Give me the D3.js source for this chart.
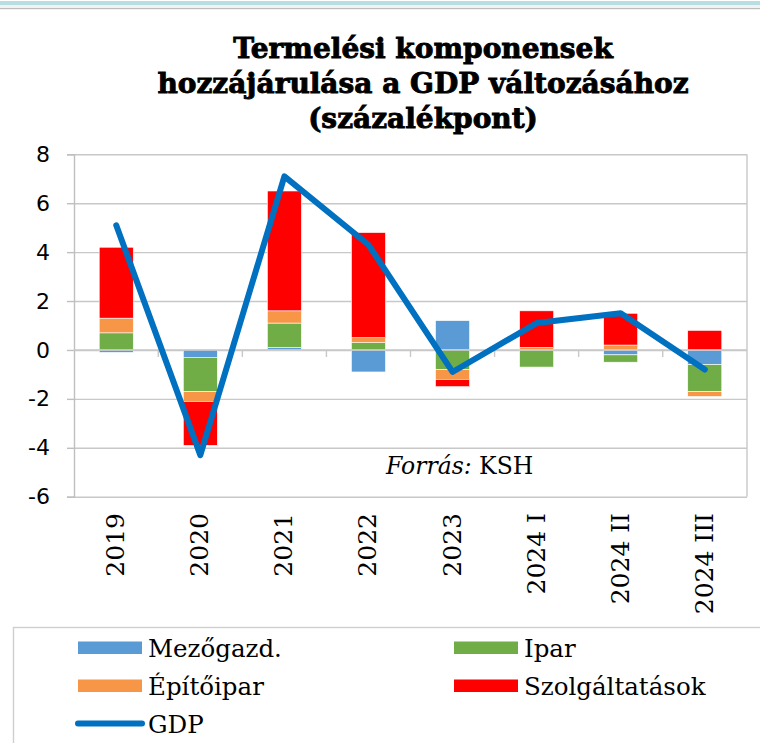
<!DOCTYPE html>
<html>
<head>
<meta charset="utf-8">
<script src="https://cdn.jsdelivr.net/npm/d3@7"></script>
<style>
  body { margin: 0; background: #fff; }
  svg { display: block; }
</style>
</head>
<body>
<div id="chart"></div>
<script>
// Termelési komponensek hozzájárulása a GDP változásához (százalékpont)
const categories = ['2019', '2020', '2021', '2022', '2023', '2024 I', '2024 II', '2024 III'];
const mezogazd  = [-0.1, -0.3, 0.1, -0.9, 1.2, 0.0, -0.2, -0.6];
const ipar      = [0.7, -1.4, 1.0, 0.3, -0.8, -0.7, -0.3, -1.1];
const epitoipar = [0.6, -0.4, 0.5, 0.2, -0.4, 0.1, 0.2, -0.2];
const szolg     = [2.9, -1.8, 4.9, 4.3, -0.3, 1.5, 1.3, 0.8];
const gdp       = [5.1, -4.3, 7.1, 4.3, -0.9, 1.1, 1.5, -0.8];
const yTicks    = [-6, -4, -2, 0, 2, 4, 6, 8];

const seriesKeys = ['Mezőgazd.', 'Ipar', 'Építőipar', 'Szolgáltatások'];
const seriesVals = [mezogazd, ipar, epitoipar, szolg];
const colors = ['#5B9BD5', '#70AD47', '#F79646', '#FF0000'];
const gdpColor = '#0070C0';

const width = 760, height = 743;
const plot = { left: 74, right: 747, top: 154.3, bottom: 496.7 };

const svg = d3.select('#chart').append('svg')
    .attr('width', width)
    .attr('height', height);

// top decoration strip
svg.append('rect').attr('x', 0).attr('y', 1).attr('width', width).attr('height', 4).attr('fill', '#B7DEE1');
svg.append('rect').attr('x', 0).attr('y', 5).attr('width', width).attr('height', 3).attr('fill', '#F2F2F2');
svg.append('rect').attr('x', 0).attr('y', 8).attr('width', width).attr('height', 1.2).attr('fill', '#BDBDBD');

// title
const title = svg.append('text')
    .attr('text-anchor', 'middle')
    .style('font-family', '"DejaVu Serif", serif')
    .style('font-weight', 'bold')
    .style('font-size', '28px')
    .attr('fill', '#000')
    .attr('stroke', '#000')
    .attr('stroke-width', 0.9);
['Termelési komponensek', 'hozzájárulása a GDP változásához', '(százalékpont)'].forEach((t, i) => {
  title.append('tspan').attr('x', 423).attr('y', 58 + i * 35).text(t);
});

const table = categories.map((c, i) => {
  const row = { cat: c };
  seriesKeys.forEach((k, j) => row[k] = seriesVals[j][i]);
  return row;
});

const x = d3.scaleBand()
    .domain(categories)
    .range([plot.left, plot.right])
    .paddingInner(0.595)
    .paddingOuter(0.3);

const y = d3.scaleLinear()
    .domain([-6, 8])
    .range([plot.bottom, plot.top]);

// gridlines
svg.append('g')
    .attr('transform', `translate(${plot.left},0)`)
    .call(d3.axisLeft(y).tickValues(yTicks).tickSize(-(plot.right - plot.left)).tickFormat(''))
    .call(g => g.select('.domain').remove())
    .call(g => g.selectAll('line').attr('stroke', '#C8C8C8').attr('stroke-width', 1.4));

// right border
svg.append('line')
    .attr('x1', plot.right).attr('x2', plot.right)
    .attr('y1', plot.top).attr('y2', plot.bottom)
    .attr('stroke', '#C8C8C8').attr('stroke-width', 1.4);

// y axis
svg.append('g')
    .attr('transform', `translate(${plot.left},0)`)
    .call(d3.axisLeft(y).tickValues(yTicks).tickSize(7).tickPadding(17).tickFormat(d => String(d)))
    .call(g => g.select('.domain').attr('stroke', '#BFBFBF').attr('stroke-width', 1.4))
    .call(g => g.selectAll('line').attr('stroke', '#BFBFBF').attr('stroke-width', 1.4))
    .call(g => g.selectAll('text')
        .style('font-family', '"DejaVu Sans", sans-serif')
        .style('font-size', '22px')
        .attr('fill', '#000'));

// stacked bars
const stack = d3.stack()
    .keys(seriesKeys)
    .offset(d3.stackOffsetDiverging);
const stacked = stack(table);

svg.append('g').selectAll('g')
    .data(stacked)
  .enter().append('g')
    .attr('fill', (d, i) => colors[i])
  .selectAll('rect')
    .data(d => d)
  .enter().append('rect')
    .attr('x', d => x(d.data.cat))
    .attr('width', x.bandwidth())
    .attr('y', d => y(Math.max(d[0], d[1])))
    .attr('height', d => Math.abs(y(d[0]) - y(d[1])))
    .attr('stroke', '#fff')
    .attr('stroke-width', 0.6);

// x axis on zero line with category-boundary ticks
svg.append('line')
    .attr('x1', plot.left).attr('x2', plot.right)
    .attr('y1', y(0)).attr('y2', y(0))
    .attr('stroke', '#C8C8C8').attr('stroke-width', 1.4);
const step = x.step();
const bounds = categories.slice(1).map(c => x(c) + x.bandwidth() / 2 - step / 2);
svg.append('g').selectAll('line')
    .data(bounds)
  .enter().append('line')
    .attr('x1', d => d).attr('x2', d => d)
    .attr('y1', y(0)).attr('y2', y(0) + 7)
    .attr('stroke', '#C8C8C8').attr('stroke-width', 1.4);

// x labels below plot, rotated
svg.append('g').selectAll('text')
    .data(categories)
  .enter().append('text')
    .attr('transform', d => `translate(${x(d) + x.bandwidth() / 2 + 8},513) rotate(-90)`)
    .attr('text-anchor', 'end')
    .style('font-family', '"DejaVu Serif", serif')
    .style('font-size', '25px')
    .attr('fill', '#000')
    .text(d => d);

// GDP line
const line = d3.line()
    .x((d, i) => x(categories[i]) + x.bandwidth() / 2)
    .y(d => y(d));
svg.append('path')
    .datum(gdp)
    .attr('d', line)
    .attr('fill', 'none')
    .attr('stroke', gdpColor)
    .attr('stroke-width', 6)
    .attr('stroke-linejoin', 'round')
    .attr('stroke-linecap', 'round');

// source note
const src = svg.append('text')
    .attr('x', 386).attr('y', 474)
    .style('font-family', '"DejaVu Serif", serif')
    .style('font-size', '23.5px')
    .attr('fill', '#000');
src.append('tspan').style('font-style', 'italic').text('Forrás:');
src.append('tspan').text(' KSH');

// legend
svg.append('rect')
    .attr('x', 13.5).attr('y', 627.5)
    .attr('width', 760).attr('height', 200)
    .attr('fill', 'none')
    .attr('stroke', '#CFCFCF').attr('stroke-width', 1.4);

const legendItems = seriesKeys.map((k, i) => ({ name: k, color: colors[i], type: 'rect' }))
    .concat([{ name: 'GDP', color: gdpColor, type: 'line' }]);
const legend = svg.append('g').selectAll('g')
    .data(legendItems)
  .enter().append('g')
    .attr('transform', (d, i) => `translate(${i % 2 === 0 ? 78 : 454},${657 + Math.floor(i / 2) * 38})`);
legend.filter(d => d.type === 'rect').append('rect')
    .attr('x', 0).attr('y', -15.5).attr('width', 64).attr('height', 12.5)
    .attr('fill', d => d.color);
legend.filter(d => d.type === 'line').append('line')
    .attr('x1', 0).attr('x2', 64).attr('y1', -9.5).attr('y2', -9.5)
    .attr('stroke', d => d.color).attr('stroke-width', 6).attr('stroke-linecap', 'round');
legend.append('text')
    .attr('x', 70)
    .style('font-family', '"DejaVu Serif", serif')
    .style('font-size', '24.5px')
    .attr('fill', '#000')
    .text(d => d.name);
</script>
</body>
</html>
